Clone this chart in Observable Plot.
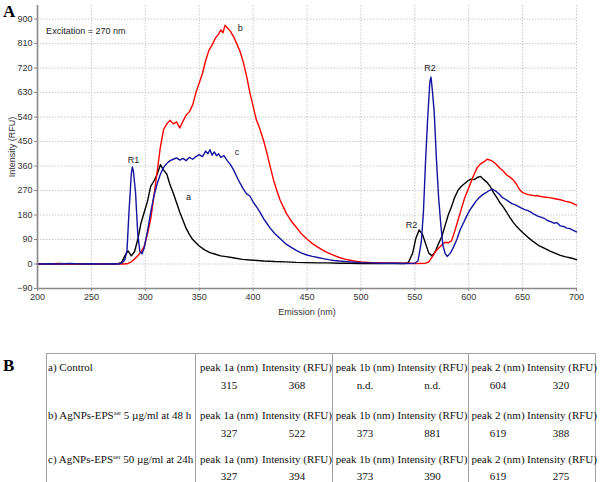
<!DOCTYPE html>
<html><head><meta charset="utf-8">
<script src="https://cdn.jsdelivr.net/npm/d3@7"></script>
<script src="https://cdn.jsdelivr.net/npm/@observablehq/plot@0.6"></script>
<style>
body{margin:0;width:600px;height:482px;position:relative;background:#fff;overflow:hidden;font-family:"Liberation Sans",Arial,sans-serif}
#chart{position:absolute;left:0;top:0;z-index:1}
.panel{position:absolute;z-index:5;font-family:"Liberation Serif","Times New Roman",serif;font-weight:bold;font-size:17px;line-height:17px}
#tbl{position:absolute;left:46px;top:353px;width:550px;border-collapse:separate;border-spacing:0;border:1px solid #a0a0a0;font-family:"Liberation Serif","Times New Roman",serif;font-size:11px;table-layout:fixed;color:#111;box-sizing:border-box}
#tbl td{padding:0;line-height:14px;vertical-align:top;text-align:center;white-space:nowrap;overflow:visible}
#tbl td.lab{text-align:left;padding-left:1px}
#tbl td.sep{border-left:1px solid #a0a0a0}
#tbl sup{font-size:6px;vertical-align:4px;line-height:0}
</style>
</head><body>
<div class="panel" style="left:3px;top:3px">A</div>
<div id="chart"></div>
<div class="panel" style="left:3px;top:357px">B</div>
<table id="tbl"></table>
<script>
// ---- Panel A data (emission nm / intensity RFU) ----
const nmA = [200,210,220,230,240,250,260,270,275,278,281,284,287,290,293,296,299,302,305,308,311,314,317,320,323,326,329,332,335,338,341,344,347,350,355,360,365,370,375,380,390,400,410,420,430,440,450,460,470,480,490,500,510,520,530,540,544,548,551,554,557,560,563,566,569,572,575,578,581,584,587,590,593,596,599,602,605,608,611,614,617,620,623,626,629,632,635,638,641,644,647,650,655,660,665,670,675,680,685,690,695,700];
const intA = [1,0,2,0,1,0,1,1,2,5,30,48,30,45,90,150,190,230,285,305,330,365,345,330,290,260,225,190,160,130,108,90,78,66,52,42,36,30,27,24,17,14,11,9,8,6,5,4,4,3,3,2,3,2,3,2,5,40,95,125,110,75,40,30,45,75,100,140,180,210,245,270,285,295,305,312,310,318,322,310,300,285,262,245,225,210,192,172,155,140,128,116,98,82,68,58,48,40,32,26,22,16];

const nmB = [200,220,240,260,280,284,287,290,293,296,299,302,305,308,311,314,317,320,323,326,329,332,335,338,341,344,347,350,353,356,359,362,365,368,370,372,374,376,379,382,385,388,391,394,397,400,403,406,410,413,416,419,422,425,428,431,435,440,445,450,455,460,465,470,475,480,485,490,495,500,510,520,530,540,550,560,563,566,569,572,575,578,581,584,587,590,593,596,599,602,605,608,611,614,617,620,623,626,629,632,635,638,641,644,647,650,655,660,665,670,675,680,685,690,695,700];
const intB = [0,1,0,1,0,2,8,18,30,45,65,110,165,250,340,430,495,515,528,515,522,500,525,548,560,585,630,665,700,748,785,805,830,845,860,850,878,868,855,835,808,780,740,690,630,580,530,500,450,405,355,308,270,235,210,185,160,135,110,92,75,62,50,40,32,24,18,14,10,8,5,4,3,3,2,3,8,25,45,58,70,80,78,85,120,160,200,240,270,300,330,355,368,375,385,382,375,365,352,342,328,320,310,295,275,262,255,252,250,246,244,240,236,230,226,216];

const nmC = [200,210,220,230,240,250,260,270,275,278,281,283,285,287,288,289,291,293,295,297,299,302,305,308,311,314,317,320,323,326,329,332,335,338,341,344,347,350,353,356,358,360,362,364,366,368,370,373,376,379,382,385,388,391,394,397,400,404,407,410,413,416,420,425,430,435,440,445,450,455,460,465,470,475,480,490,500,510,520,530,540,550,553,556,558,560,562,564,565,566,568,570,572,574,576,578,580,583,586,589,592,595,598,601,604,607,610,613,616,619,622,625,628,631,634,637,640,643,646,649,652,655,658,661,664,667,670,673,676,679,682,685,688,691,694,697,700];
const intC = [0,1,0,2,0,1,0,1,0,3,15,50,200,330,357,340,260,110,45,38,60,120,190,250,295,330,355,370,380,385,390,382,388,380,392,385,395,402,395,415,405,420,400,412,398,405,392,398,380,365,345,320,296,275,258,250,228,205,186,165,148,131,112,94,75,62,50,40,33,28,24,20,16,13,11,8,5,4,3,3,2,3,12,80,190,380,540,670,687,650,560,390,250,150,70,40,28,40,63,90,125,150,175,198,215,232,245,255,262,270,275,268,258,245,238,230,222,218,212,205,200,196,190,182,176,172,168,160,156,150,152,140,138,132,130,124,118];

const xTicks = [200,250,300,350,400,450,500,550,600,650,700];
const yTicks = [-90,0,90,180,270,360,450,540,630,720,810,900];

const annotText = ["Excitation = 270 nm","b","R2","c","R1","a","R2"];
const annotNm   = [208,388,564,385,289,340,547];
const annotInt  = [856,868,720,412,381,247,143];

// ---- Panel B data ----
const samples = ["a) Control","b) AgNPs-EPS<sup>aer</sup> 5 µg/ml at 48 h","c) AgNPs-EPS<sup>aer</sup> 50 µg/ml at 24h"];
const headers = ["peak 1a (nm)","Intensity (RFU)","peak 1b (nm)","Intensity (RFU)","peak 2 (nm)","Intensity (RFU)"];
const peak1a = ["315","327","327"];
const int1a  = ["368","522","394"];
const peak1b = ["n.d.","373","373"];
const int1b  = ["n.d.","881","390"];
const peak2  = ["604","619","619"];
const int2   = ["320","388","275"];

// ---- build chart ----
const toRows = (nm, v) => nm.map((x,i)=>({x, y:v[i]}));
const annots = annotText.map((t,i)=>({t, x:annotNm[i], y:annotInt[i]}));
const lineOpts = {x:"x", y:"y", strokeWidth:1.4, curve:"linear"};

const chart = Plot.plot({
  width:600, height:318,
  marginLeft:37, marginRight:24, marginTop:5, marginBottom:30,
  style:{fontFamily:"'Liberation Sans', Arial, sans-serif", fontSize:"9px", color:"#333", background:"transparent", overflow:"visible"},
  x:{domain:[200,700]},
  y:{domain:[-90,950]},
  marks:[
    Plot.gridX(xTicks.slice(1), {stroke:"#c8c8c8", strokeOpacity:1, strokeDasharray:"1.5,1.5", strokeWidth:1}),
    Plot.gridY(yTicks.slice(1), {stroke:"#c8c8c8", strokeOpacity:1, strokeDasharray:"1.5,1.5", strokeWidth:1}),
    Plot.line(toRows(nmA,intA), {...lineOpts, stroke:"#000000"}),
    Plot.line(toRows(nmB,intB), {...lineOpts, stroke:"#ff0000"}),
    Plot.line(toRows(nmC,intC), {...lineOpts, stroke:"#1414a0"}),
    Plot.ruleX([200], {stroke:"#888", strokeWidth:1.6}),
    Plot.ruleY([-90], {stroke:"#888", strokeWidth:1.6}),
    Plot.axisX(xTicks, {tickSize:3, stroke:"#888", tickPadding:2, label:"Emission (nm)", labelAnchor:"center", labelArrow:"none", labelOffset:26, fill:"#333"}),
    Plot.axisY(yTicks, {tickSize:3, stroke:"#888", tickPadding:2, label:"Intensity (RFU)", labelAnchor:"center", labelArrow:"none", labelOffset:29, fill:"#333"}),
    Plot.text(annots.slice(0,1), {x:"x", y:"y", text:"t", textAnchor:"start", fill:"#222", fontSize:9}),
    Plot.text(annots.slice(1), {x:"x", y:"y", text:"t", textAnchor:"middle", fill:"#222", fontSize:9})
  ]
});
document.getElementById("chart").appendChild(chart);

// ---- build table ----
const widths = [148,67,70,65,71,59,68];
const cols = [peak1a,int1a,peak1b,int1b,peak2,int2];
const rowH = [[24,30],[18,26],[17,11]];
let html = "<colgroup>" + widths.map(w=>`<col style="width:${w}px">`).join("") + "</colgroup>";
samples.forEach((s,i)=>{
  const pt = i===0 ? "padding-top:6px;" : "";
  html += `<tr style="height:${rowH[i][0]}px"><td class="lab" rowspan="2" style="${pt}">${s}</td>` +
    headers.map((h,j)=>`<td class="${j%2===0?'sep':''}" style="${pt}">${h}</td>`).join("") + "</tr>";
  html += `<tr style="height:${rowH[i][1]}px">` +
    cols.map((c,j)=>`<td class="${j%2===0?'sep':''}">${c[i]}</td>`).join("") + "</tr>";
});
document.getElementById("tbl").innerHTML = html;
</script>
</body></html>
